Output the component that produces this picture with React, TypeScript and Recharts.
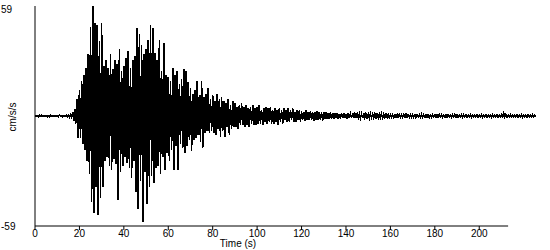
import { LineChart, Line, XAxis, YAxis, ReferenceLine, Label } from 'recharts'

// sample interval of the record (s)
const SAMPLE_DT = 0.5

// acceleration (cm/s/s) in 0.5 s steps
const preEvent = [
  0.3, -0.3, 0.2, -0.4, 0.3, -0.2, 0.4, -0.3, 0.2, -0.3,
  0.3, -0.4, 0.2, -0.3, 0.4, -0.2, 0.3, -0.3, 0.2, -0.4,
  0.3, -0.3, 0.4, -0.2, 0.3, -0.4, 0.3, -0.3, 0.5, -0.4,
  0.6, -0.5, 0.8, -0.7,
]

const onset = [
  2, -2.5, 3.5, -4, 9, -12, 14, -12, 19, -15,
  22, -18, 26, -24, 33, -31,
]

const strongMotion = [
  48, -46, 59, -52, 50, -38, 49, -53, 40, -44,
  50, -38, 27, -24, 30, -22, 26, -27, 33, -29,
  25, -23, 30, -26, 28, -45, 36, -30, 24, -27,
  27, -22, 31, -25, 35, -28, 26, -33, 30, -24,
  32, -41, 47, -50, 44, -35, 38, -57, 33, -30,
  36, -47, 41, -38, 49, -32, 47, -36, 34, -28,
  30, -27, 41, -31, 24, -22, 39, -29, 22, -20,
]

const coda = [
  21, -24, 19, -18, 26, -29, 22, -16, 24, -29,
  17, -15, 20, -17, 25, -20, 24, -16, 18, -13,
  15, -19, 12, -13, 14, -12, 19, -10, 11, -14,
  19, -17, 10, -9, 12, -8, 15, -9, 9, -8,
  11, -9, 8, -10, 12, -7, 9, -11, 10, -8,
  8, -11, 7, -6, 9, -10, 6, -7, 8, -6,
  7, -6, 5, -7, 6, -5, 7, -5, 5, -6,
  6, -5, 4, -6, 5, -4, 6, -5, 4, -5,
]

const tail = [
  5, -4, 6, -4, 3, -5, 4, -3, 5, -4,
  4, -3, 5, -4, 3, -4, 4, -3, 3, -5,
  4, -3, 3, -4, 4, -2, 3, -3, 4, -3,
  3, -2, 4, -3, 2, -3, 3, -2, 3, -3,
  2.5, -2, 2, -2.5, 3, -2, 2, -2, 2.5, -2,
  2, -2.5, 2, -2, 2.5, -2, 2, -2, 2, -2.5,
  2, -1.5, 2, -1.5, 1.5, -1.5, 2, -1.5, 1.8, -1.5,
  1.5, -1.2, 1.5, -1.5, 1.2, -1.5, 1.5, -1.2, 1.5, -1.2,
  1.2, -1.5, 1.5, -1, 1.2, -1.2, 1.5, -1, 1.2, -1.2,
  1.2, -1, 1.2, -1.2, 1, -1.2, 1.3, -1, 1.2, -1,
  1, -1.2, 1.2, -0.9, 1, -1, 1.2, -0.9, 1, -1,
  1, -0.9, 1.1, -0.9, 0.9, -1, 1, -0.8, 0.9, -0.9,
]

const lateTail = [
  0.8, -0.6, 0.7, -0.8, 0.6, -0.7, 0.9, -0.6, 0.7, -0.7,
  0.6, -0.8, 0.7, -0.6, 1.1, -0.7, 0.6, -0.6, 0.8, -0.7,
  0.7, -0.6, 0.6, -0.8, 0.7, -0.5, 0.6, -0.7, 0.9, -0.6,
  0.6, -0.6, 0.7, -0.5, 0.6, -0.7, 0.5, -0.6, 0.7, -0.5,
  0.6, -0.7, 0.5, -0.6, 0.8, -0.5, 0.6, -0.6, 0.5, -0.7,
  0.6, -0.5, 0.7, -0.6, 0.5, -0.6, 0.6, -0.5, 0.7, -0.6,
  0.5, -0.6, 0.6, -0.5, 0.5, -0.6, 0.7, -0.5, 0.6, -0.5,
  0.5, -0.5, 0.6, -0.6, 0.5, -0.5, 0.6, -0.5, 0.5, -0.6,
  0.6, -0.5, 0.5, -0.6, 0.5, -0.5, 0.6, -0.5, 0.5, -0.5,
  0.5, -0.6, 0.6, -0.5, 0.5, -0.5, 0.6, -0.6, 0.5, -0.5,
  0.6, -0.5, 1.4, -0.6, 0.9, -0.5, 0.5, -0.6, 0.6, -0.5,
  0.5, -0.5, 0.6, -0.5, 0.5, -0.6, 0.5, -0.5, 0.6, -0.5,
  0.5, -0.6, 0.5, -0.5, 0.6, -0.5, 0.5, -0.5, 0.6, -0.5,
  0.5, -0.4,
]

const timeTicks = [0, 20, 40, 60, 80, 100, 120, 140, 160, 180, 200]
const ampTicks = [-59, 59]

const FONT = '"Liberation Sans", Arial, sans-serif'

const trace = [...preEvent, ...onset, ...strongMotion, ...coda, ...tail, ...lateTail]
const data = trace.map((a, i) => ({ t: i * SAMPLE_DT, a }))

const YTick = (props: any) => {
  const { y, payload } = props
  return (
    <text x={1} y={y} dy="0.355em" textAnchor="start" fontSize={10} fontFamily={FONT} fill="#000">
      {payload.value}
    </text>
  )
}

export default function App() {
  return (
    <div style={{ position: 'absolute', left: 0, top: 0, width: 550, height: 250, background: '#fff' }}>
      <LineChart width={550} height={250} data={data} margin={{ top: 6, right: 13, bottom: 4, left: 0 }}>
        <XAxis
          dataKey="t"
          type="number"
          domain={[0, 226]}
          ticks={timeTicks}
          axisLine={false}
          tickLine={{ stroke: '#000' }}
          tickSize={4}
          tickMargin={0}
          height={20}
          interval={0}
          tick={{ fontSize: 10, fontFamily: FONT, fill: '#000' }}
        >
          <Label
            content={() => (
              <text x={238} y={247} textAnchor="middle" fontSize={10} fontFamily={FONT} fill="#000">
                Time (s)
              </text>
            )}
          />
        </XAxis>
        <YAxis
          type="number"
          domain={[-59, 59]}
          ticks={ampTicks}
          width={35}
          axisLine={{ stroke: '#000' }}
          tickLine={false}
          tick={<YTick />}
          allowDataOverflow
        >
          <Label
            content={() => (
              <text
                x={16}
                y={117}
                transform="rotate(-90 16 117)"
                textAnchor="middle"
                fontSize={10}
                fontFamily={FONT}
                fill="#000"
              >
                cm/s/s
              </text>
            )}
          />
        </YAxis>
        <ReferenceLine
          segment={[{ x: 0, y: -59 }, { x: 213, y: -59 }]}
          stroke="#000"
          ifOverflow="visible"
        />
        <Line
          type="linear"
          dataKey="a"
          stroke="#000"
          strokeWidth={1.6}
          shapeRendering="crispEdges"
          dot={false}
          isAnimationActive={false}
        />
      </LineChart>
    </div>
  )
}
